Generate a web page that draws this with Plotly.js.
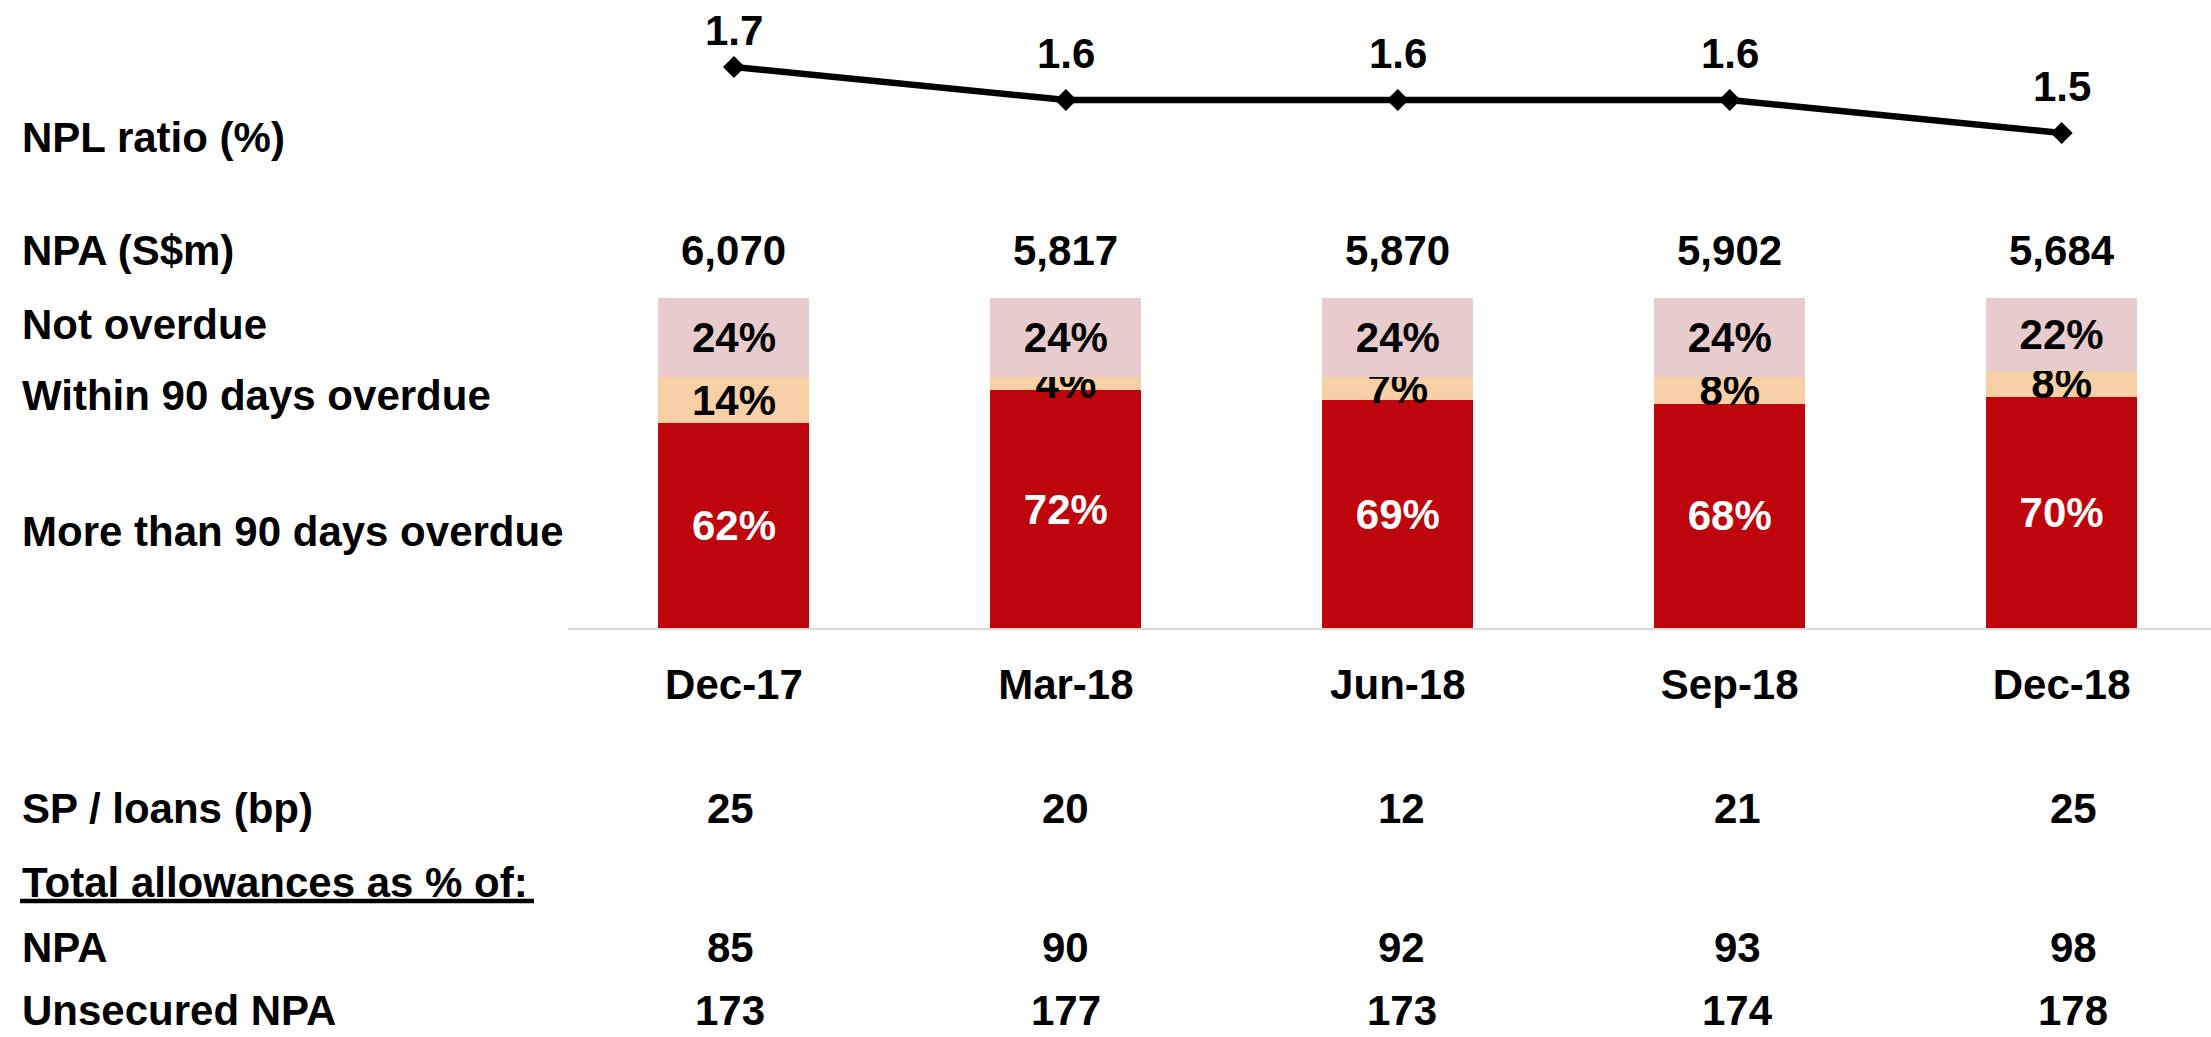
<!DOCTYPE html>
<html>
<head>
<meta charset="utf-8">
<script src="https://cdn.plot.ly/plotly-3.0.1.min.js"></script>
<style>
  html, body { margin: 0; padding: 0; background: #ffffff; }
  #chart { width: 2211px; height: 1037px; }
</style>
</head>
<body>
<div id="chart"></div>
<script>
// ---- Data ----
const categories = ['Dec-17', 'Mar-18', 'Jun-18', 'Sep-18', 'Dec-18'];
const nplRatio = [1.7, 1.6, 1.6, 1.6, 1.5];
const npaTotal = [6070, 5817, 5870, 5902, 5684];
const moreThan90 = [62, 72, 69, 68, 70];
const within90 = [14, 4, 7, 8, 8];
const notOverdue = [24, 24, 24, 24, 22];
const spLoans = [25, 20, 12, 21, 25];
const allowNPA = [85, 90, 92, 93, 98];
const allowUnsecured = [173, 177, 173, 174, 178];

const rowLabels = ['NPL ratio (%)', 'NPA (S$m)', 'Not overdue', 'Within 90 days overdue',
  'More than 90 days overdue', 'SP / loans (bp)', 'Total allowances as % of:', 'NPA', 'Unsecured NPA'];

// ---- Layout geometry (pixels) ----
const W = 2211, H = 1037;
const L = 568, BASE = 628;
const plotW = W - L, plotH = BASE;
const px = p => (p - L) / plotW;
const py = p => (BASE - p) / plotH;
// vertical centres of the rows; the last row is anchored to the bottom edge
const rowY = [137, 250, 324, 395, 531, 808, 882, 947, 1036];
const rowAnchor = ['middle', 'middle', 'middle', 'middle', 'middle', 'middle', 'middle', 'middle', 'bottom'];

const FONT = 'Liberation Sans, Arial, sans-serif';
const FS = 42;
const fnt = (size, color) => ({ family: FONT, size: size, color: color || '#000000', weight: 700 });

const barCommon = {
  type: 'bar', x: categories, width: 0.455,
  textposition: 'inside', insidetextanchor: 'middle', constraintext: 'none',
  textangle: 0, cliponaxis: false, hoverinfo: 'skip'
};

const traces = [
  Object.assign({}, barCommon, {
    name: 'More than 90 days overdue', y: moreThan90,
    text: moreThan90.map(v => v + '%'), textfont: fnt(FS, '#ffffff'),
    marker: { color: '#BE050C', line: { width: 0 } }
  }),
  Object.assign({}, barCommon, {
    name: 'Within 90 days overdue', y: within90,
    text: within90.map(v => v + '%'), textfont: fnt(FS, '#000000'),
    marker: { color: '#F8D0A6', line: { width: 0 } }
  }),
  Object.assign({}, barCommon, {
    name: 'Not overdue', y: notOverdue,
    text: notOverdue.map(v => v + '%'), textfont: fnt(FS, '#000000'),
    marker: { color: '#E8CBCC', line: { width: 0 } }
  }),
  {
    type: 'scatter', mode: 'lines+markers', x: categories, y: nplRatio, yaxis: 'y2',
    line: { color: '#000000', width: 6.5 },
    marker: { symbol: 'diamond', size: 17, color: '#000000' },
    cliponaxis: false, hoverinfo: 'skip', name: 'NPL ratio'
  }
];

const annotations = [];
rowLabels.forEach((t, i) => {
  annotations.push({
    xref: 'paper', yref: 'paper', x: px(20), y: py(rowY[i]),
    xanchor: 'left', yanchor: rowAnchor[i], text: t, showarrow: false, font: fnt(FS)
  });
});
const tableRows = [[spLoans, 5], [allowNPA, 7], [allowUnsecured, 8]];
categories.forEach((c, i) => {
  annotations.push({
    xref: 'x', yref: 'y2', x: c, y: nplRatio[i], xanchor: 'center', yanchor: 'bottom',
    yshift: i === 0 ? 11 : 21, text: nplRatio[i].toFixed(1), showarrow: false, font: fnt(FS)
  });
  annotations.push({
    xref: 'x', yref: 'paper', x: c, y: py(rowY[1]), xanchor: 'center', yanchor: 'middle',
    text: npaTotal[i].toLocaleString('en-US'), showarrow: false, font: fnt(FS)
  });
  // table rows sit on a slightly wider column grid (x2)
  tableRows.forEach(([arr, r]) => {
    annotations.push({
      xref: 'x2', yref: 'paper', x: i, y: py(rowY[r]), xanchor: 'center', yanchor: rowAnchor[r],
      text: String(arr[i]), showarrow: false, font: fnt(FS)
    });
  });
});

const layout = {
  width: W, height: H,
  margin: { l: L, r: 0, t: 0, b: H - BASE, pad: 0 },
  paper_bgcolor: '#ffffff', plot_bgcolor: '#ffffff',
  barmode: 'stack', showlegend: false, hovermode: false,
  font: fnt(FS),
  xaxis: {
    type: 'category', range: [-0.5, 4.45], fixedrange: true,
    showline: true, linecolor: '#D9D9D9', linewidth: 2,
    showgrid: false, zeroline: false, ticks: '',
    tickfont: fnt(FS), ticklabelstandoff: 19
  },
  xaxis2: {
    type: 'linear', overlaying: 'x', range: [-0.4825, 4.411], visible: false, fixedrange: true
  },
  yaxis: { range: [0, 190.3], visible: false, showgrid: false, zeroline: false, fixedrange: true },
  yaxis2: { range: [0, 1.903], overlaying: 'y', visible: false, showgrid: false, zeroline: false, fixedrange: true },
  shapes: [{
    type: 'line', xref: 'paper', yref: 'paper', x0: px(20), x1: px(534), y0: py(901), y1: py(901),
    line: { color: '#000000', width: 4.5 }
  }],
  annotations: annotations
};

Plotly.newPlot('chart', traces, layout, { displayModeBar: false, staticPlot: true });
</script>
</body>
</html>
